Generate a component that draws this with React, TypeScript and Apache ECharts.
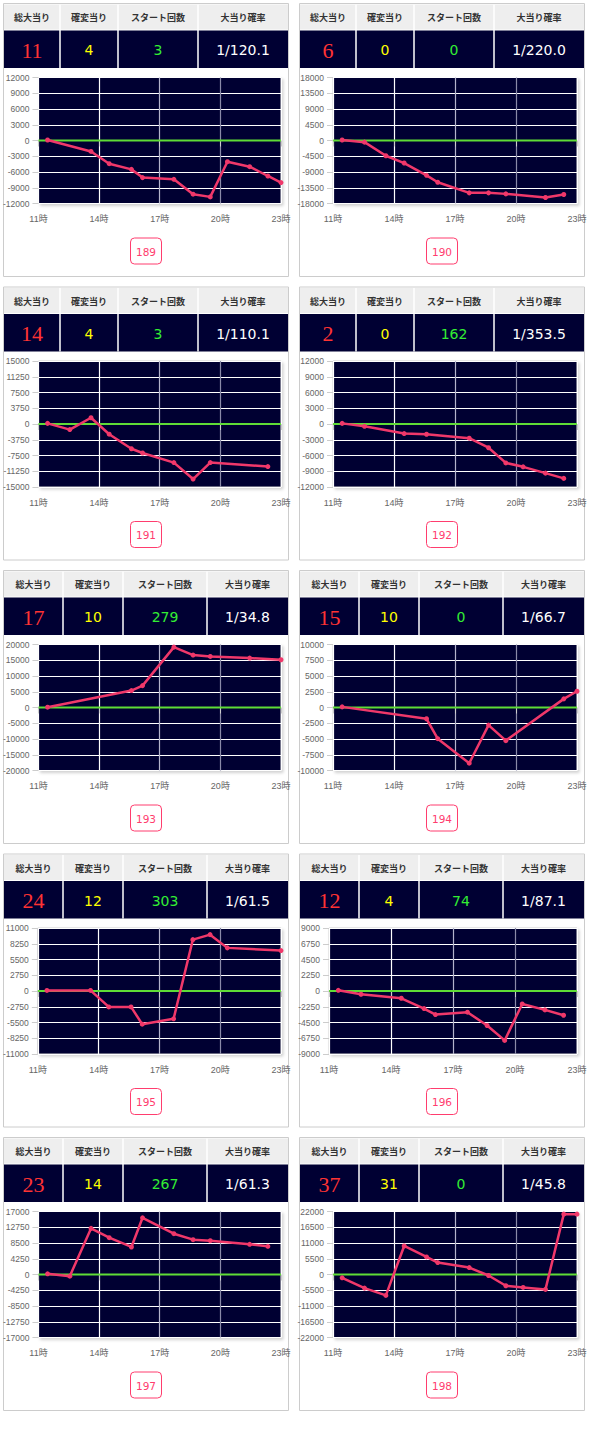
import React, { useEffect, useRef } from "react";
import * as echarts from "echarts";

// ---- data ----
const hours = [11.45, 12.55, 13.6, 14.5, 15.6, 16.15, 17.7, 18.65, 19.5, 20.35, 21.45, 22.35, 23.0];
const machineNos = ["189", "190", "191", "192", "193", "194", "195", "196", "197", "198"];
const totalHits = ["11", "6", "14", "2", "17", "15", "24", "12", "23", "37"];
const kakuhenHits = ["4", "0", "4", "0", "10", "10", "12", "4", "14", "31"];
const startCounts = ["3", "0", "3", "162", "279", "0", "303", "74", "267", "0"];
const hitRates = ["1/120.1", "1/220.0", "1/110.1", "1/353.5", "1/34.8", "1/66.7", "1/61.5", "1/87.1", "1/61.3", "1/45.8"];
const yMaxes = [12000, 18000, 15000, 12000, 20000, 10000, 11000, 9000, 17000, 22000];
const headerLabels = ["総大当り", "確変当り", "スタート回数", "大当り確率"];
const xTicks = [11, 14, 17, 20, 23];

const diff189 = [100, null, -2080, -4420, -5500, -7070, -7390, -10230, -10740, -4040, -4990, -6760, -8020];
const diff190 = [150, -470, -4360, -6440, -9950, -11930, -14960, -14960, -15250, null, -16290, -15440, null];
const diff191 = [150, -1330, 1490, -2430, -5890, -6910, -9190, -13110, -9190, null, null, -10130, null];
const diff192 = [120, -440, null, -1820, -1950, null, -2700, -4520, -7410, -8160, -9360, -10360, null];
const diff193 = [100, null, null, null, 5370, 6950, 19160, 16640, 16220, null, 15690, null, 15160];
const diff194 = [100, null, null, null, -1790, -4950, -8840, -2790, -5260, null, null, 1370, 2580];
const diff195 = [100, null, 100, -2780, -2780, -5790, -4860, 8970, 9840, 7530, null, null, 7060];
const diff196 = [100, -470, null, -1040, -2510, -3370, -3030, -4930, -7060, -1850, -2700, -3460, null];
const diff197 = [180, -450, 12440, 9930, 7430, 15300, 11010, 9400, 9130, null, 8140, 7600, null];
const diff198 = [-1160, -4750, -7300, 9960, 6140, 4170, 2430, -350, -3940, -4520, -5210, 21080, 21080];
const diffs = [diff189, diff190, diff191, diff192, diff193, diff194, diff195, diff196, diff197, diff198];

// ---- layout / style ----
const W = 593;
const H = 1429;
const cardXs = [3, 299];
const cardW = 286;
const cardH = 274;
const rowPitch = 283.5;
const NAVY = "#000033";
const PINK = "#f0386a";
const SANS = "'Liberation Sans', 'Noto Sans CJK JP', sans-serif";
const JP = "'Noto Sans CJK JP', sans-serif";

function buildOption() {
  const grids: any[] = [];
  const xAxes: any[] = [];
  const yAxes: any[] = [];
  const series: any[] = [];
  const graphics: any[] = [];

  machineNos.forEach((no, i) => {
    const row = Math.floor(i / 2);
    const col = i % 2;
    const cx = cardXs[col];
    const cy = 3 + row * rowPitch;
    const yMax = yMaxes[i];
    const labelLen = String(-yMax).length;
    const plotLeft = cx + (labelLen >= 6 ? 34 : 30);
    const plotRight = cx + 278;
    const plotTop = cy + 74.5;
    const plotH = 126;

    grids.push({
      left: plotLeft,
      top: plotTop,
      width: plotRight - plotLeft,
      height: plotH,
      show: true,
      backgroundColor: NAVY,
      borderColor: "#cfcfcf",
      borderWidth: 1,
      shadowColor: "rgba(0,0,0,0.18)",
      shadowBlur: 3,
      shadowOffsetX: 2,
      shadowOffsetY: 2,
    });
    xAxes.push({
      gridIndex: i,
      type: "value",
      min: xTicks[0],
      max: xTicks[xTicks.length - 1],
      interval: 3,
      axisLine: { show: false },
      axisTick: { show: true, length: 6, lineStyle: { color: "#cccccc" } },
      axisLabel: {
        fontSize: 9,
        color: "#666",
        fontFamily: SANS,
        margin: 11,
        formatter: (v: number) => `${v}時`,
      },
      splitLine: {
        show: true,
        lineStyle: { color: ["#ffffff", "#ffffff", "#b4b4cc", "#8a8aa8", "#ffffff"], width: 1.2 },
      },
    });
    yAxes.push({
      gridIndex: i,
      type: "value",
      min: -yMax,
      max: yMax,
      interval: yMax / 4,
      axisLine: { show: false },
      axisTick: { show: true, length: 6, lineStyle: { color: "#cccccc" } },
      axisLabel: {
        fontSize: 8.5,
        color: "#666",
        fontFamily: SANS,
        margin: 9,
        formatter: (v: number) => String(v),
      },
      splitLine: { show: true, lineStyle: { color: "#ffffff", width: 1 } },
    });
    series.push({
      type: "line",
      xAxisIndex: i,
      yAxisIndex: i,
      data: [
        [xTicks[0], 0],
        [xTicks[xTicks.length - 1], 0],
      ],
      symbol: "none",
      silent: true,
      lineStyle: { color: "#5fdc36", width: 2 },
      z: 2,
    });
    const pts = hours
      .map((h, k) => [h, diffs[i][k]])
      .filter((p) => p[1] !== null);
    series.push({
      type: "line",
      xAxisIndex: i,
      yAxisIndex: i,
      data: pts,
      symbol: "circle",
      symbolSize: 5,
      showSymbol: true,
      itemStyle: { color: PINK },
      lineStyle: { color: PINK, width: 2.5 },
      z: 3,
    });

    // card border
    graphics.push({
      type: "rect",
      shape: { x: cx + 0.5, y: cy + 0.5, width: cardW - 1, height: cardH - 1 },
      style: { fill: "none", stroke: "#cccccc", lineWidth: 1 },
    });
    // table
    const b = row < 2 ? [1, 57, 115, 195, 285] : [1, 60, 120, 204, 285];
    const headTop = cy + 1.5;
    const headH = 25;
    const darkTop = headTop + headH + 1;
    const darkH = 37.5;
    graphics.push({
      type: "rect",
      shape: { x: cx + b[0], y: headTop, width: b[4] - b[0], height: headH },
      style: { fill: "#eeeeee" },
    });
    graphics.push({
      type: "rect",
      shape: { x: cx + b[0], y: darkTop, width: b[4] - b[0], height: darkH },
      style: { fill: NAVY },
    });
    for (let k = 1; k < 4; k++) {
      graphics.push({
        type: "line",
        shape: { x1: cx + b[k], y1: headTop, x2: cx + b[k], y2: darkTop + darkH },
        style: { stroke: "#ffffff", lineWidth: 1.5 },
      });
    }
    const values = [totalHits[i], kakuhenHits[i], startCounts[i], hitRates[i]];
    const colors = ["#ff3333", "#ffff00", "#33ee33", "#ffffff"];
    const fonts = [
      { fontSize: 22, fontFamily: "'Liberation Serif', serif" },
      { fontSize: 14, fontFamily: "'DejaVu Sans', sans-serif" },
      { fontSize: 14, fontFamily: "'DejaVu Sans', sans-serif" },
      { fontSize: 14, fontFamily: "'DejaVu Sans', sans-serif" },
    ];
    for (let k = 0; k < 4; k++) {
      const mid = cx + (b[k] + b[k + 1]) / 2;
      graphics.push({
        type: "text",
        x: mid,
        y: headTop + headH / 2 + 0.5,
        style: {
          text: headerLabels[k],
          fill: "#333333",
          fontSize: 9,
          fontWeight: "bold",
          fontFamily: JP,
          align: "center",
          verticalAlign: "middle",
        },
      });
      graphics.push({
        type: "text",
        x: mid,
        y: darkTop + darkH / 2 + 1,
        style: {
          text: values[k],
          fill: colors[k],
          fontSize: fonts[k].fontSize,
          fontFamily: fonts[k].fontFamily,
          align: "center",
          verticalAlign: "middle",
        },
      });
    }
    // button
    const bx = cx + cardW / 2 - 15.5;
    const by = cy + 235;
    graphics.push({
      type: "rect",
      shape: { x: bx, y: by, width: 31, height: 26, r: 4 },
      style: { fill: "#ffffff", stroke: "#ff3d6e", lineWidth: 1 },
    });
    graphics.push({
      type: "text",
      x: bx + 15.5,
      y: by + 13.5,
      style: {
        text: no,
        fill: "#ff3d6e",
        fontSize: 10.5,
        fontFamily: "'DejaVu Sans', sans-serif",
        align: "center",
        verticalAlign: "middle",
      },
    });
  });

  return {
    animation: false,
    backgroundColor: "#ffffff",
    grid: grids,
    xAxis: xAxes,
    yAxis: yAxes,
    series,
    graphic: { elements: graphics },
  };
}

export default function App() {
  const ref = useRef<HTMLDivElement>(null);
  useEffect(() => {
    if (!ref.current) return;
    const chart = echarts.init(ref.current, undefined, { renderer: "svg" });
    chart.setOption(buildOption() as any);
    return () => chart.dispose();
  }, []);
  return (
    <div
      ref={ref}
      style={{ position: "absolute", left: 0, top: 0, width: W, height: H }}
    />
  );
}
